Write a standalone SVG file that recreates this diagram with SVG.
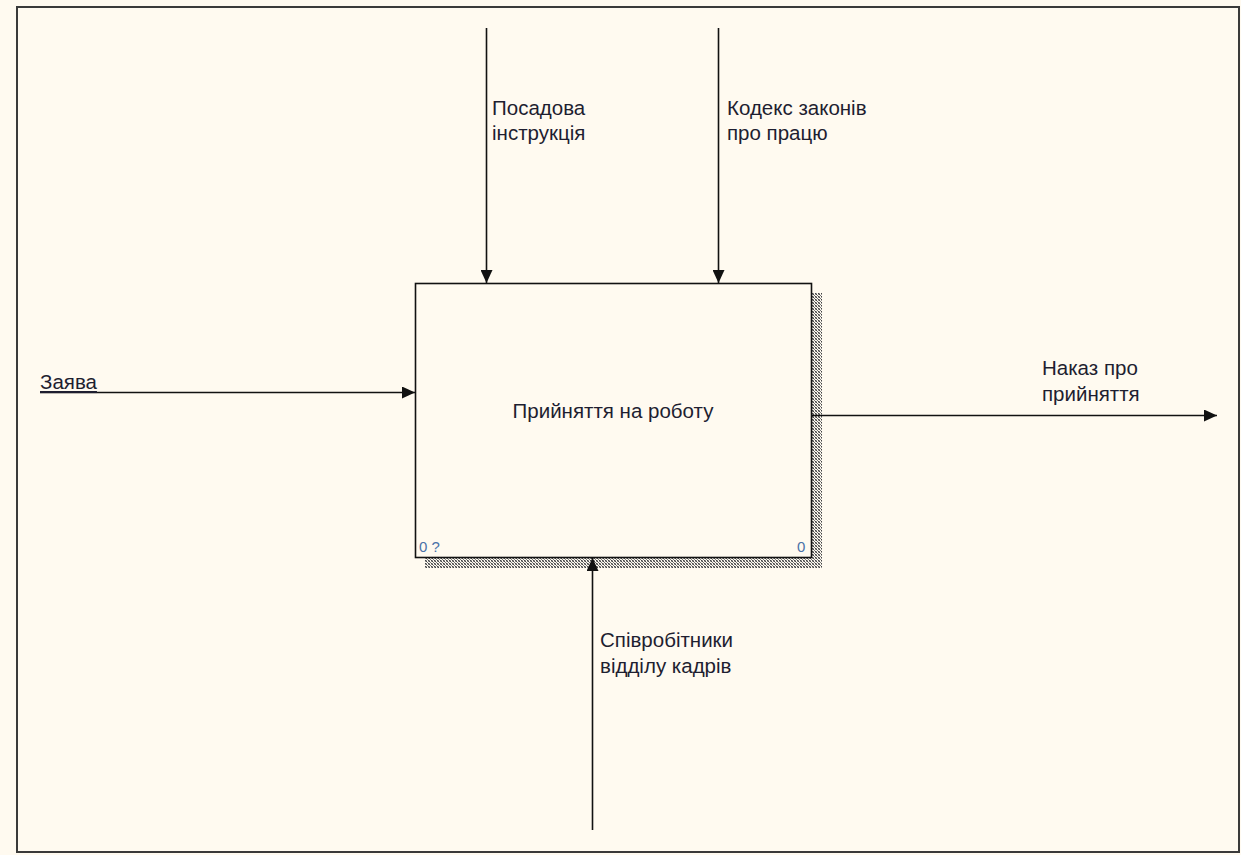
<svg xmlns="http://www.w3.org/2000/svg" width="1241" height="855" viewBox="0 0 1241 855">
  <style>
    .lbl { font-family: "Liberation Sans", Arial, sans-serif; font-size: 20.5px; fill: #1e1e30; }
    .num { font-family: "Liberation Sans", Arial, sans-serif; font-size: 15px; fill: #4a72a8; }
    .arrow { stroke: #111; stroke-width: 1.6; fill: none; }
  </style>
  <defs>
    <marker id="head" viewBox="0 0 13 12" refX="13" refY="6" markerWidth="13" markerHeight="12" markerUnits="userSpaceOnUse" orient="auto">
      <path d="M0,0 L13,6 L0,12 Z" fill="#111"/>
    </marker>
    <!-- dotted drop-shadow fill -->
    <pattern id="hatch" width="3" height="3" patternUnits="userSpaceOnUse">
      <rect width="3" height="3" fill="#fffaf0"/>
      <rect x="0" y="0" width="1" height="1" fill="#444"/>
      <rect x="1" y="1" width="1" height="1" fill="#777"/>
      <rect x="2" y="0" width="1" height="1" fill="#999"/>
      <rect x="2" y="2" width="1" height="1" fill="#444"/>
      <rect x="0" y="2" width="1" height="1" fill="#999"/>
    </pattern>
  </defs>

  <rect width="1241" height="855" fill="#fffaf0"/>
  <!-- diagram frame -->
  <rect x="17" y="7" width="1222" height="845" fill="#fffaf0" stroke="#3a3a3a" stroke-width="2"/>

  <!-- activity box -->
  <g id="node-hire">
    <rect x="812" y="293" width="10" height="275" fill="url(#hatch)"/>
    <rect x="425" y="558" width="397" height="10" fill="url(#hatch)"/>
    <rect x="415.5" y="283.5" width="396" height="274" fill="#fffaf0" stroke="#111" stroke-width="1.6"/>
    <text class="lbl" x="613" y="418" text-anchor="middle">Прийняття на роботу</text>
    <text class="num" x="419" y="552">0 ?</text>
    <text class="num" x="797" y="552">0</text>
  </g>

  <!-- ICOM arrows -->
  <g id="connectors">
    <line class="arrow" x1="486.5" y1="28" x2="486.5" y2="283" marker-end="url(#head)"/>
    <line class="arrow" x1="718.5" y1="28" x2="718.5" y2="283" marker-end="url(#head)"/>
    <line class="arrow" x1="40" y1="392.5" x2="415" y2="392.5" marker-end="url(#head)"/>
    <line class="arrow" x1="812" y1="415.5" x2="1217" y2="415.5" marker-end="url(#head)"/>
    <line class="arrow" x1="592.5" y1="830" x2="592.5" y2="558" marker-end="url(#head)"/>
  </g>

  <g id="label-control-1">
    <text class="lbl" x="492" y="115">Посадова</text>
    <text class="lbl" x="492" y="140">інструкція</text>
  </g>
  <g id="label-control-2">
    <text class="lbl" x="727" y="115">Кодекс законів</text>
    <text class="lbl" x="727" y="140">про працю</text>
  </g>
  <g id="label-input">
    <text class="lbl" x="40" y="389" text-decoration="underline">Заява</text>
  </g>
  <g id="label-output">
    <text class="lbl" x="1042" y="375">Наказ про</text>
    <text class="lbl" x="1042" y="401">прийняття</text>
  </g>
  <g id="label-mechanism">
    <text class="lbl" x="600" y="647">Співробітники</text>
    <text class="lbl" x="600" y="673">відділу кадрів</text>
  </g>
</svg>
